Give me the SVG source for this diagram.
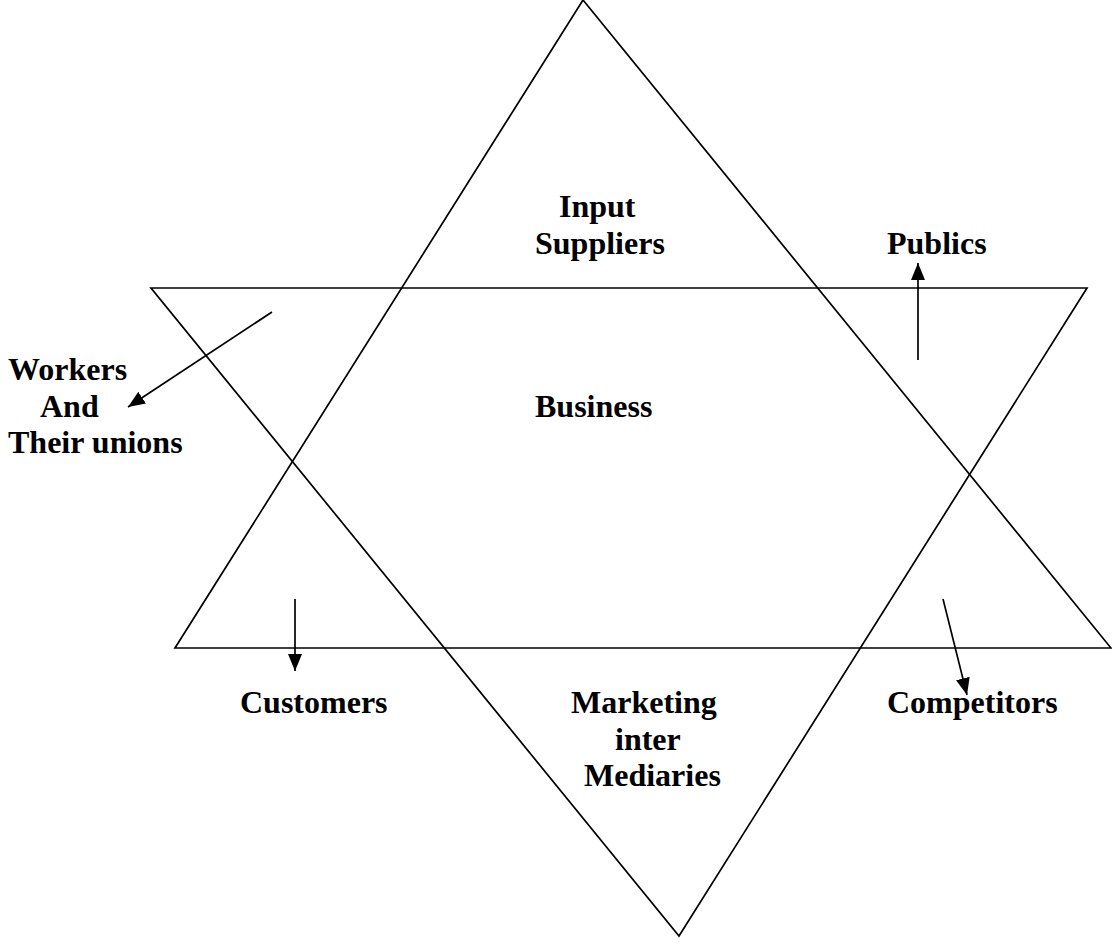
<svg xmlns="http://www.w3.org/2000/svg" width="1112" height="944" viewBox="0 0 1112 944">
<style>
.shape{fill:none;stroke:#000;stroke-width:1.7;stroke-linejoin:miter}
.arr{fill:none;stroke:#000;stroke-width:1.7}
.lbl{font-family:"Liberation Serif","Times New Roman",serif;font-weight:bold;font-size:32px;fill:#000}
</style>
<defs>
<marker id="ah" markerUnits="userSpaceOnUse" markerWidth="18" markerHeight="16" viewBox="0 0 18 16" refX="17" refY="8" orient="auto">
<path d="M0,1 L17,8 L0,15 Z" fill="#000"/>
</marker>
</defs>
<rect width="1112" height="944" fill="#fff"/>
<g id="up-triangle"><polygon class="shape" points="583,0 1111,648 175,648"/></g>
<g id="down-triangle"><polygon class="shape" points="151,288 1087,288 679,936"/></g>
<g id="connectors">
<line class="arr" x1="272" y1="312" x2="128" y2="407" marker-end="url(#ah)"/>
<line class="arr" x1="295" y1="599" x2="295" y2="671" marker-end="url(#ah)"/>
<line class="arr" x1="918" y1="360" x2="918" y2="263" marker-end="url(#ah)"/>
<line class="arr" x1="943" y1="599" x2="967" y2="695" marker-end="url(#ah)"/>
</g>
<g id="input-suppliers"><text class="lbl" x="559" y="217">Input</text><text class="lbl" x="535" y="254">Suppliers</text></g>
<g id="publics"><text class="lbl" x="887" y="254">Publics</text></g>
<g id="workers"><text class="lbl" x="8" y="380">Workers</text><text class="lbl" x="40" y="417">And</text><text class="lbl" x="8" y="453">Their unions</text></g>
<g id="business"><text class="lbl" x="535" y="417">Business</text></g>
<g id="customers"><text class="lbl" x="240" y="713">Customers</text></g>
<g id="marketing"><text class="lbl" x="571" y="713">Marketing</text><text class="lbl" x="615" y="750">inter</text><text class="lbl" x="584" y="786">Mediaries</text></g>
<g id="competitors"><text class="lbl" x="887" y="713">Competitors</text></g>
</svg>
